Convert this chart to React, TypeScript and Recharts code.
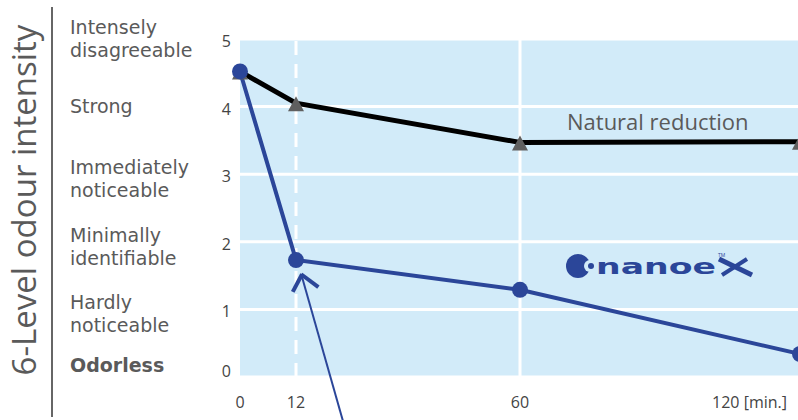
import React from 'react';
import {
  ComposedChart,
  Line,
  Scatter,
  XAxis,
  YAxis,
  CartesianGrid,
  ReferenceLine,
} from 'recharts';

// time after start [min.]
const minutes = [0, 12, 60, 120];
// odour level without treatment
const naturalReduction = [4.52, 4.05, 3.47, 3.48];
// odour level with nanoe X
const nanoeX = [4.52, 1.73, 1.29, 0.34];

const levels = [0, 1, 2, 3, 4, 5];
const levelNames = [
  ['Odorless'],
  ['Hardly', 'noticeable'],
  ['Minimally', 'identifiable'],
  ['Immediately', 'noticeable'],
  ['Strong'],
  ['Intensely', 'disagreeable'],
];
const xTicks = [0, 12, 60, 120];

const data = minutes.map((m, i) => ({
  minute: m,
  natural: naturalReduction[i],
  nanoe: nanoeX[i],
}));

const BLUE = '#2b4699';
const BG = '#d2ebf9';
const TEXT = '#5a5a5a';
const FONT = '"Open Sans", "DejaVu Sans", sans-serif';
const LABEL_FONT = '"DejaVu Sans", sans-serif';

const LevelTick = (props: any) => {
  const { x, y, payload } = props;
  const v = payload.value as number;
  const lines = levelNames[v];
  const nameX = x - 162;
  return (
    <g>
      <text x={x - 1} y={v === 0 ? y : y + 8} textAnchor="end" fontSize={16} fill="#444" fontFamily={FONT}>
        {v}
      </text>
      {lines.length === 1 ? (
        <text
          x={nameX}
          y={v === 0 ? y - 5 : y + 6}
          fontSize={19}
          fill={TEXT}
          fontWeight={v === 0 ? 700 : 400}
          fontFamily={LABEL_FONT}
        >
          {lines[0]}
        </text>
      ) : (
        <text x={nameX} fontSize={19} fill={TEXT} fontFamily={LABEL_FONT}>
          <tspan x={nameX} y={v === 5 ? y - 5 : y}>{lines[0]}</tspan>
          <tspan x={nameX} y={v === 5 ? y + 18 : y + 23}>{lines[1]}</tspan>
        </text>
      )}
    </g>
  );
};

const MinuteTick = (props: any) => {
  const { x, y, payload } = props;
  const v = payload.value as number;
  if (v === 120) {
    return (
      <text x={x - 3} y={y + 23} textAnchor="end" fontSize={16} fill="#444" fontFamily={FONT}>
        120 [min.]
      </text>
    );
  }
  return (
    <text x={x} y={y + 23} textAnchor="middle" fontSize={16} fill="#444" fontFamily={FONT}>
      {v}
    </text>
  );
};

const Triangle = (props: any) => {
  const { cx, cy } = props;
  if (cx == null || cy == null) return null;
  return <polygon points={`${cx - 8},${cy + 8} ${cx + 8},${cy + 8} ${cx},${cy - 7}`} fill="#5f5f5f" />;
};

export default function App() {
  return (
    <div style={{ position: 'absolute', left: 0, top: 0, width: 798, height: 420, overflow: 'hidden', background: '#fff' }}>
      <ComposedChart width={802} height={420} data={data} margin={{ top: 39, right: 2, bottom: 13, left: 40 }}>
        <CartesianGrid vertical={false} horizontal stroke="#fff" strokeWidth={3} fill={BG} />
        <XAxis
          dataKey="minute"
          type="number"
          domain={[0, 120]}
          ticks={xTicks}
          axisLine={false}
          tickLine={false}
          tick={<MinuteTick />}
          height={30}
        />
        <YAxis
          type="number"
          domain={[0, 5]}
          ticks={levels}
          axisLine={false}
          tickLine={false}
          tick={<LevelTick />}
          width={200}
        />
        <ReferenceLine x={12} stroke="#fff" strokeWidth={3} strokeDasharray="14 9" />
        <ReferenceLine x={60} stroke="#fff" strokeWidth={3} />
        <Scatter dataKey="natural" shape={<Triangle />} isAnimationActive={false} />
        <Line
          dataKey="natural"
          type="linear"
          stroke="#000"
          strokeWidth={5}
          dot={false}
          isAnimationActive={false}
        />
        <Line
          dataKey="nanoe"
          type="linear"
          stroke={BLUE}
          strokeWidth={4}
          dot={{ r: 8, fill: BLUE, stroke: BLUE, strokeWidth: 0 }}
          isAnimationActive={false}
        />
        {/* arrow pointing at the 12 min. point */}
        <ReferenceLine
          segment={[{ x: 22.1, y: -0.66 }, { x: 13.2, y: 1.5 }]}
          stroke={BLUE}
          strokeWidth={2}
          ifOverflow="visible"
        />
        <ReferenceLine
          segment={[{ x: 11.3, y: 1.26 }, { x: 13.3, y: 1.52 }]}
          stroke={BLUE}
          strokeWidth={4}
          ifOverflow="visible"
        />
        <ReferenceLine
          segment={[{ x: 16.8, y: 1.33 }, { x: 13.1, y: 1.52 }]}
          stroke={BLUE}
          strokeWidth={4}
          ifOverflow="visible"
        />
      </ComposedChart>
      <svg width={798} height={420} style={{ position: 'absolute', left: 0, top: 0, pointerEvents: 'none' }}>
        <text
          transform="translate(36 200) rotate(-90)"
          textAnchor="middle"
          fontSize={33}
          fill={TEXT}
          fontFamily={FONT}
        >
          6-Level odour intensity
        </text>
        <line x1={52} y1={7} x2={52} y2={417} stroke="#333" strokeWidth={1.5} />
        <text x={567} y={130} fontSize={22} fill={TEXT} fontFamily={FONT}>
          Natural reduction
        </text>
        {/* nanoe X logo */}
        <circle cx={578} cy={266} r={12} fill={BLUE} />
        <circle cx={590} cy={266} r={6} fill={BG} />
        <circle cx={591} cy={266} r={3} fill={BLUE} />
        <text
          x={596}
          y={274}
          fontSize={22}
          fontWeight={700}
          fill={BLUE}
          fontFamily='"DejaVu Sans", sans-serif'
          textLength={120}
          lengthAdjust="spacingAndGlyphs"
        >
          nanoe
        </text>
        <line x1={719} y1={259} x2={752} y2={275} stroke={BLUE} strokeWidth={5} />
        <line x1={747} y1={259} x2={722} y2={275} stroke={BLUE} strokeWidth={4} />
        <text x={718} y={257} fontSize={5} fill={BLUE} fontFamily={FONT}>
          TM
        </text>
      </svg>
    </div>
  );
}
